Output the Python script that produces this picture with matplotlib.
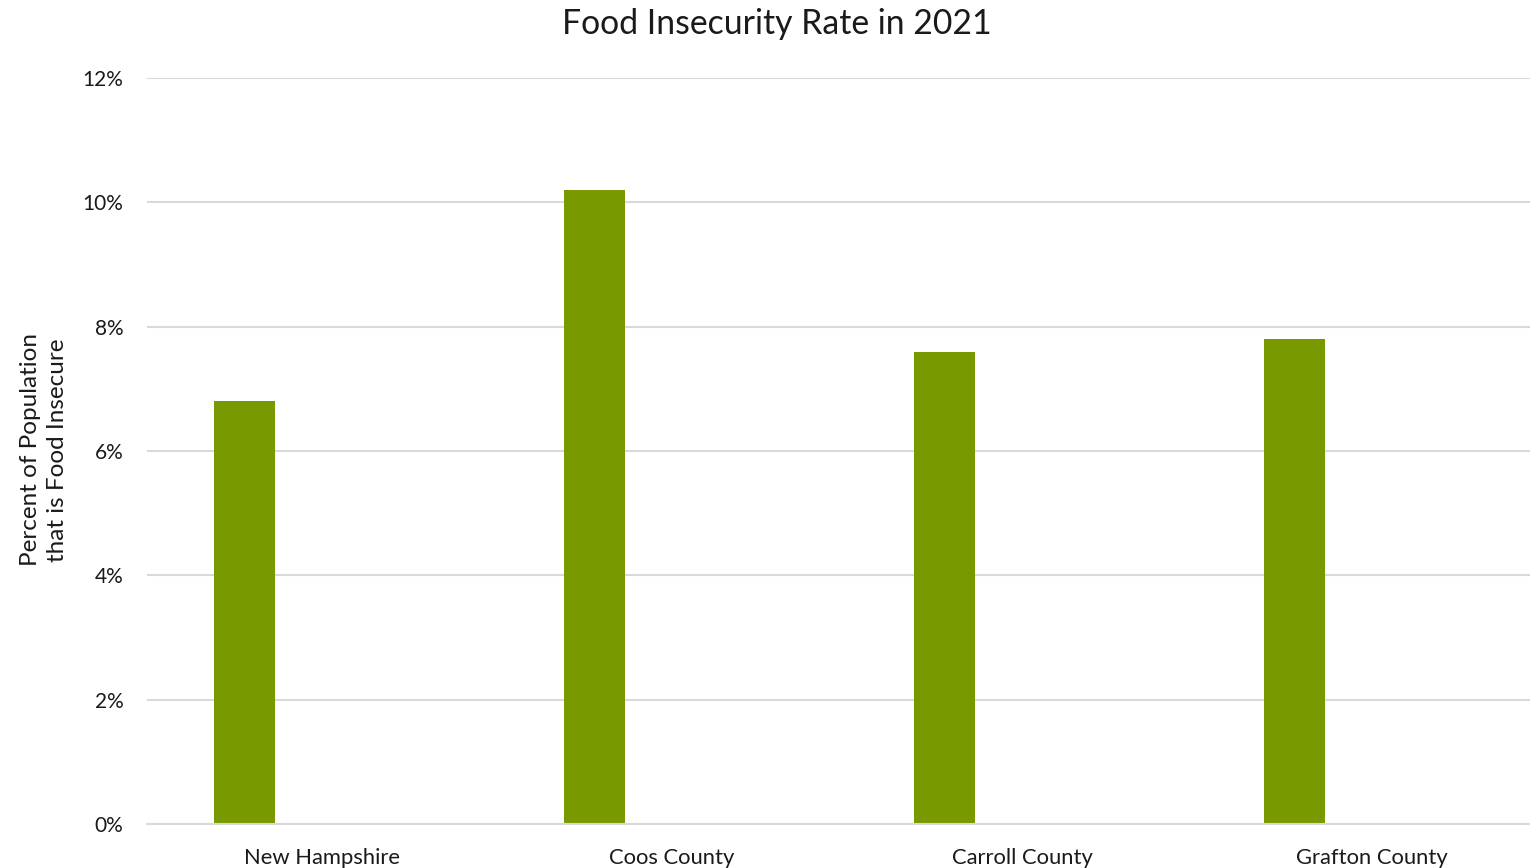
import matplotlib
matplotlib.use("Agg")
import matplotlib.pyplot as plt
from matplotlib.ticker import FuncFormatter

categories = ["New Hampshire", "Coos County", "Carroll County", "Grafton County"]
rates = [6.8, 10.2, 7.6, 7.8]
y_ticks = [0, 2, 4, 6, 8, 10, 12]

BAR_COLOR = "#789A00"
GRID_COLOR = "#D9D9D9"
TEXT_COLOR = "#1a1a1a"

plt.rcParams["font.family"] = ["Lato", "DejaVu Sans"]

W, H = 1530, 868
fig = plt.figure(figsize=(W / 100, H / 100), dpi=100)
# plot area in pixel terms: x 147..1530, y 78..824
slot = 350.0
ax = fig.add_axes([147 / W, 44 / H, (W - 147) / W, 746 / H])

x = list(range(len(categories)))
offset = -77.5 / slot
ax.bar([i + offset for i in x], rates, width=61 / slot, color=BAR_COLOR, zorder=3)

ax.set_xlim(-0.5, -0.5 + (W - 147) / slot)
ax.set_ylim(0, 12)
ax.set_yticks(y_ticks)
ax.yaxis.set_major_formatter(FuncFormatter(lambda v, _p: f"{v:.0f}%"))
ax.set_xticks(x)
ax.set_xticklabels(categories)

ax.grid(axis="y", color=GRID_COLOR, linewidth=1.5, zorder=0)
for side in ["top", "right", "left"]:
    ax.spines[side].set_visible(False)
ax.spines["bottom"].set_color(GRID_COLOR)
ax.spines["bottom"].set_linewidth(1.5)
ax.spines["bottom"].set_zorder(4)

ax.tick_params(axis="y", length=0, labelsize=15, colors=TEXT_COLOR, pad=17)
ax.tick_params(axis="x", length=0, labelsize=15.8, colors=TEXT_COLOR, pad=17)

fig.text(44 / W, 1 - 450 / H, "Percent of Population\nthat is Food Insecure",
         rotation=90, ha="center", va="center", fontsize=17.5,
         color=TEXT_COLOR, linespacing=1.32)
fig.text(777 / W, 1 - 24 / H, "Food Insecurity Rate in 2021", ha="center",
         va="center", fontsize=24.3, color=TEXT_COLOR)

fig.savefig("out.png", dpi=100, facecolor="white")
